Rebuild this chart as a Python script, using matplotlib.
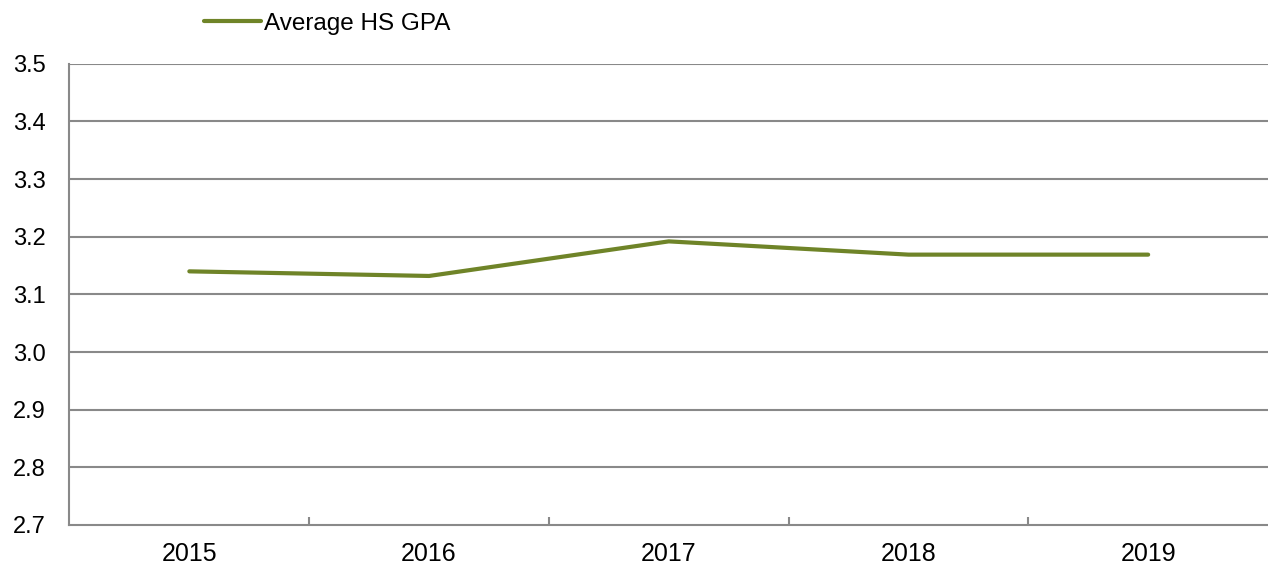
import matplotlib.pyplot as plt
import numpy as np

plt.rcParams['font.family'] = ['Liberation Sans', 'DejaVu Sans']

# Data
years = ['2015', '2016', '2017', '2018', '2019']
avg_gpa = [3.14, 3.132, 3.192, 3.169, 3.169]
y_ticks = [2.7, 2.8, 2.9, 3.0, 3.1, 3.2, 3.3, 3.4, 3.5]

line_color = '#6f8428'
grid_color = '#898989'

fig = plt.figure(figsize=(12.68, 5.70), dpi=100)
ax = fig.add_axes([0.0548, 0.079, 0.9452, 0.809])

x = np.arange(len(years))
ax.plot(x, avg_gpa, color=line_color, linewidth=3, solid_capstyle='round',
        solid_joinstyle='round', label='Average HS GPA', zorder=3)

ax.set_xlim(-0.5, len(years) - 0.5)
ax.set_ylim(2.7, 3.5)
ax.set_yticks(y_ticks)
ax.set_yticklabels([f'{v:.1f}' for v in y_ticks])
for v in y_ticks[1:]:
    ax.axhline(v, color=grid_color, linewidth=1.5, zorder=1)

ax.set_xticks(x)
ax.set_xticklabels(years)
ax.set_xticks(np.arange(0.5, len(years) - 0.5), minor=True)
ax.tick_params(axis='x', which='major', length=0, pad=12, labelsize=18)
ax.tick_params(axis='x', which='minor', direction='in', length=6,
               width=1.5, color=grid_color)
ax.tick_params(axis='y', length=0, pad=17, labelsize=17)

for side in ['top', 'right']:
    ax.spines[side].set_visible(False)
for side in ['left', 'bottom']:
    ax.spines[side].set_color(grid_color)
    ax.spines[side].set_linewidth(1.5)

ax.legend(loc='center left', bbox_to_anchor=(0.1122, 1.087), frameon=False,
          fontsize=17.5, handlelength=2.35, handletextpad=0.1,
          borderaxespad=0, borderpad=0)

fig.savefig('out.png', dpi=100)
